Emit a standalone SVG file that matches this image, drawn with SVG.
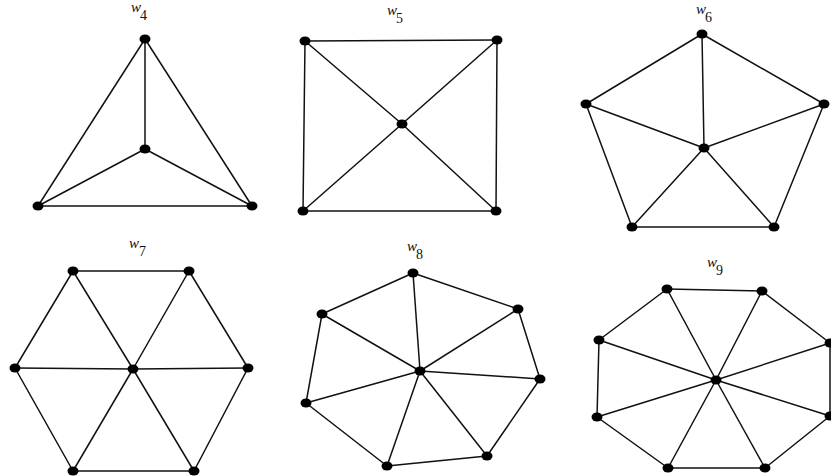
<svg xmlns="http://www.w3.org/2000/svg" width="831" height="476" viewBox="0 0 831 476">
<style>
.e{stroke:#111;stroke-width:1.5;fill:none;stroke-linecap:round}
.v{fill:#000}
.w{font-family:"Liberation Serif",serif;font-style:italic;font-size:15px;fill:#111}
.s{font-family:"Liberation Serif",serif;font-size:14px;fill:#111}
</style>
<rect width="831" height="476" fill="#fff"/>
<defs><ellipse id="dot" cx="0" cy="0" rx="5.5" ry="4.5" class="v"/></defs>

<g id="connectors">
  <g id="w4-edges" class="e">
    <line x1="145" y1="39" x2="38" y2="206"/><line x1="145" y1="39" x2="252" y2="206"/><line x1="38" y1="206" x2="252" y2="206"/>
    <line x1="145" y1="149" x2="145" y2="39"/><line x1="145" y1="149" x2="38" y2="206"/><line x1="145" y1="149" x2="252" y2="206"/>
  </g>
  <g id="w5-edges" class="e">
    <line x1="305" y1="41" x2="497" y2="40"/><line x1="497" y1="40" x2="496" y2="211"/><line x1="496" y1="211" x2="303" y2="211"/><line x1="303" y1="211" x2="305" y2="41"/>
    <line x1="402" y1="124" x2="305" y2="41"/><line x1="402" y1="124" x2="497" y2="40"/><line x1="402" y1="124" x2="303" y2="211"/><line x1="402" y1="124" x2="496" y2="211"/>
  </g>
  <g id="w6-edges" class="e">
    <line x1="702" y1="34" x2="586" y2="104"/><line x1="702" y1="34" x2="824" y2="104"/><line x1="586" y1="104" x2="632" y2="227"/><line x1="824" y1="104" x2="774" y2="227"/><line x1="632" y1="227" x2="774" y2="227"/>
    <line x1="704" y1="148" x2="702" y2="34"/><line x1="704" y1="148" x2="586" y2="104"/><line x1="704" y1="148" x2="824" y2="104"/><line x1="704" y1="148" x2="632" y2="227"/><line x1="704" y1="148" x2="774" y2="227"/>
  </g>
  <g id="w7-edges" class="e">
    <line x1="73" y1="271" x2="189" y2="271"/><line x1="189" y1="271" x2="248" y2="368"/><line x1="248" y1="368" x2="194" y2="471"/><line x1="194" y1="471" x2="73" y2="471"/><line x1="73" y1="471" x2="15" y2="368"/><line x1="15" y1="368" x2="73" y2="271"/>
    <line x1="133" y1="369" x2="73" y2="271"/><line x1="133" y1="369" x2="189" y2="271"/><line x1="133" y1="369" x2="248" y2="368"/><line x1="133" y1="369" x2="194" y2="471"/><line x1="133" y1="369" x2="73" y2="471"/><line x1="133" y1="369" x2="15" y2="368"/>
  </g>
  <g id="w8-edges" class="e">
    <line x1="413" y1="273" x2="518" y2="309"/><line x1="518" y1="309" x2="540" y2="379"/><line x1="540" y1="379" x2="487" y2="456"/><line x1="487" y1="456" x2="387" y2="466"/><line x1="387" y1="466" x2="306" y2="403"/><line x1="306" y1="403" x2="322" y2="314"/><line x1="322" y1="314" x2="413" y2="273"/>
    <line x1="420" y1="371" x2="413" y2="273"/><line x1="420" y1="371" x2="518" y2="309"/><line x1="420" y1="371" x2="540" y2="379"/><line x1="420" y1="371" x2="487" y2="456"/><line x1="420" y1="371" x2="387" y2="466"/><line x1="420" y1="371" x2="306" y2="403"/><line x1="420" y1="371" x2="322" y2="314"/>
  </g>
  <g id="w9-edges" class="e">
    <line x1="667" y1="289" x2="762" y2="291"/><line x1="762" y1="291" x2="830" y2="343"/><line x1="830" y1="343" x2="830" y2="416"/><line x1="830" y1="416" x2="765" y2="468"/><line x1="765" y1="468" x2="668" y2="468"/><line x1="668" y1="468" x2="597" y2="417"/><line x1="597" y1="417" x2="599" y2="340"/><line x1="599" y1="340" x2="667" y2="289"/>
    <line x1="716" y1="380" x2="667" y2="289"/><line x1="716" y1="380" x2="762" y2="291"/><line x1="716" y1="380" x2="830" y2="343"/><line x1="716" y1="380" x2="830" y2="416"/><line x1="716" y1="380" x2="765" y2="468"/><line x1="716" y1="380" x2="668" y2="468"/><line x1="716" y1="380" x2="597" y2="417"/><line x1="716" y1="380" x2="599" y2="340"/>
  </g>
</g>

<g id="labels">
  <g id="label-w4"><text class="w" x="131" y="12">w</text><text class="s" x="140" y="20">4</text></g>
  <g id="label-w5"><text class="w" x="387" y="15">w</text><text class="s" x="396" y="23">5</text></g>
  <g id="label-w6"><text class="w" x="696" y="14">w</text><text class="s" x="705" y="22">6</text></g>
  <g id="label-w7"><text class="w" x="129" y="248">w</text><text class="s" x="139" y="256">7</text></g>
  <g id="label-w8"><text class="w" x="407" y="251">w</text><text class="s" x="416" y="259">8</text></g>
  <g id="label-w9"><text class="w" x="707" y="267">w</text><text class="s" x="716" y="275">9</text></g>
</g>

<g id="nodes">
  <g id="w4-t"><use href="#dot" x="145" y="39"/></g>
  <g id="w4-c"><use href="#dot" x="145" y="149"/></g>
  <g id="w4-bl"><use href="#dot" x="38" y="206"/></g>
  <g id="w4-br"><use href="#dot" x="252" y="206"/></g>

  <g id="w5-tl"><use href="#dot" x="305" y="41"/></g>
  <g id="w5-tr"><use href="#dot" x="497" y="40"/></g>
  <g id="w5-c"><use href="#dot" x="402" y="124"/></g>
  <g id="w5-bl"><use href="#dot" x="303" y="211"/></g>
  <g id="w5-br"><use href="#dot" x="496" y="211"/></g>

  <g id="w6-t"><use href="#dot" x="702" y="34"/></g>
  <g id="w6-l"><use href="#dot" x="586" y="104"/></g>
  <g id="w6-r"><use href="#dot" x="824" y="104"/></g>
  <g id="w6-c"><use href="#dot" x="704" y="148"/></g>
  <g id="w6-bl"><use href="#dot" x="632" y="227"/></g>
  <g id="w6-br"><use href="#dot" x="774" y="227"/></g>

  <g id="w7-tl"><use href="#dot" x="73" y="271"/></g>
  <g id="w7-tr"><use href="#dot" x="189" y="271"/></g>
  <g id="w7-l"><use href="#dot" x="15" y="368"/></g>
  <g id="w7-c"><use href="#dot" x="133" y="369"/></g>
  <g id="w7-r"><use href="#dot" x="248" y="368"/></g>
  <g id="w7-bl"><use href="#dot" x="73" y="471"/></g>
  <g id="w7-br"><use href="#dot" x="194" y="471"/></g>

  <g id="w8-t"><use href="#dot" x="413" y="273"/></g>
  <g id="w8-ul"><use href="#dot" x="322" y="314"/></g>
  <g id="w8-ur"><use href="#dot" x="518" y="309"/></g>
  <g id="w8-c"><use href="#dot" x="420" y="371"/></g>
  <g id="w8-r"><use href="#dot" x="540" y="379"/></g>
  <g id="w8-l"><use href="#dot" x="306" y="403"/></g>
  <g id="w8-bl"><use href="#dot" x="387" y="466"/></g>
  <g id="w8-br"><use href="#dot" x="487" y="456"/></g>

  <g id="w9-tl"><use href="#dot" x="667" y="289"/></g>
  <g id="w9-tr"><use href="#dot" x="762" y="291"/></g>
  <g id="w9-l"><use href="#dot" x="599" y="340"/></g>
  <g id="w9-r"><use href="#dot" x="830" y="343"/></g>
  <g id="w9-c"><use href="#dot" x="716" y="380"/></g>
  <g id="w9-ll"><use href="#dot" x="597" y="417"/></g>
  <g id="w9-rr"><use href="#dot" x="830" y="416"/></g>
  <g id="w9-bl"><use href="#dot" x="668" y="468"/></g>
  <g id="w9-br"><use href="#dot" x="765" y="468"/></g>
</g>
</svg>
